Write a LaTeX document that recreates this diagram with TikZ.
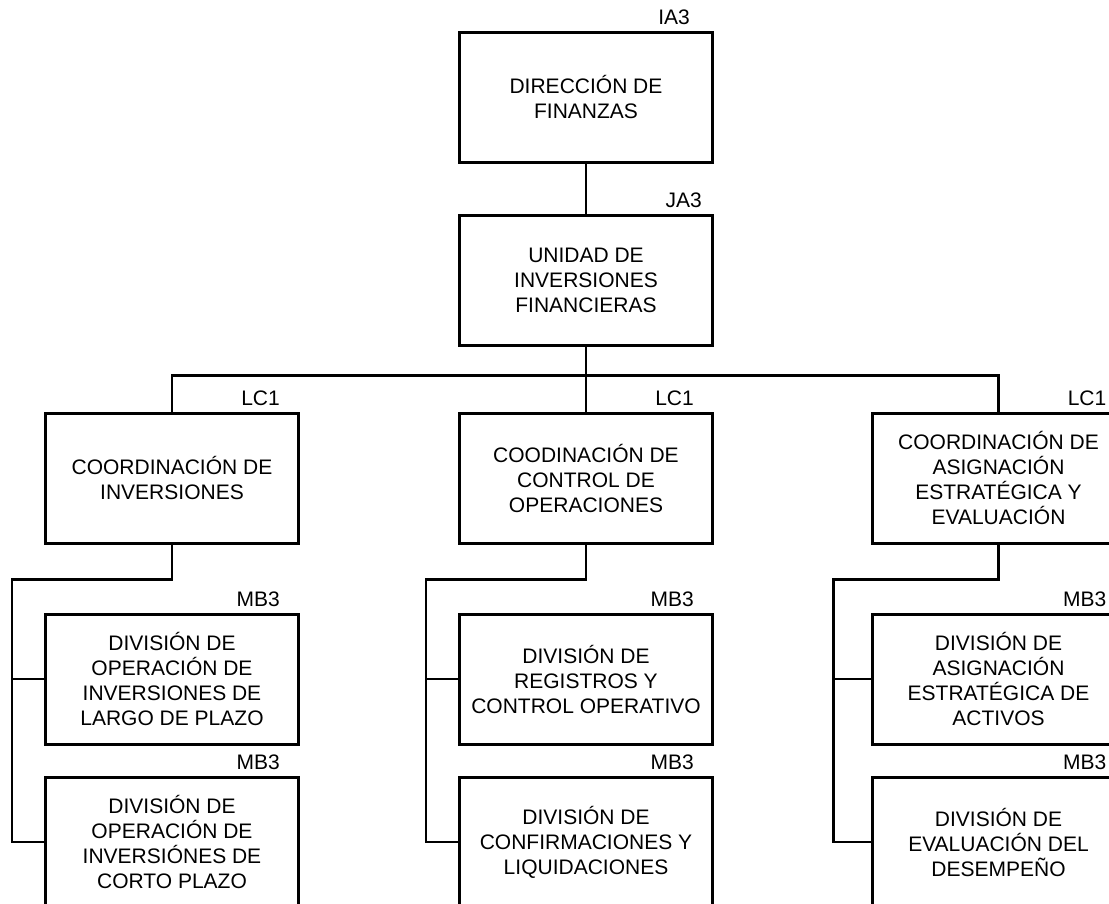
\documentclass[tikz,border=0pt]{standalone}
\usepackage{fontspec}
\setmainfont{Liberation Sans}
\usepackage{tikz}
\usetikzlibrary{calc}

\begin{document}
\begin{tikzpicture}[x=1pt,y=1pt,font=\fontsize{21}{25}\selectfont,
  unitbox/.style={draw,line width=3pt,minimum width=253pt,minimum height=130pt,align=center,inner sep=2pt},
  tag/.style={anchor=south east,inner sep=0pt,xshift=-20pt,yshift=6pt},
  link/.style={line width=2.5pt}]
  \useasboundingbox (0,0) rectangle (1109,-903);
  \clip (0,0) rectangle (1109,-903);
  % top levels
  \node[unitbox,label={[tag,xshift=-4pt]north east:IA3}] (dir) at (586,-97) {DIRECCIÓN DE\\FINANZAS};
  \node[unitbox,label={[tag,xshift=8pt]north east:JA3}] (uni) at (586,-280) {UNIDAD DE\\INVERSIONES\\FINANCIERAS};
  % coordinations
  \node[unitbox,label={[tag]north east:LC1}] (coi) at (172,-478) {COORDINACIÓN DE\\INVERSIONES};
  \node[unitbox,label={[tag]north east:LC1}] (cco) at (586,-478) {COODINACIÓN DE\\CONTROL DE\\OPERACIONES};
  \node[unitbox,label={[tag]north east:LC1}] (cae) at (998.5,-478) {COORDINACIÓN DE\\ASIGNACIÓN\\ESTRATÉGICA Y\\EVALUACIÓN};
  % divisions
  \node[unitbox,label={[tag]north east:MB3}] (dol) at (172,-679) {DIVISIÓN DE\\OPERACIÓN DE\\INVERSIONES DE\\LARGO DE PLAZO};
  \node[unitbox,label={[tag]north east:MB3}] (doc) at (172,-842) {DIVISIÓN DE\\OPERACIÓN DE\\INVERSIÓNES DE\\CORTO PLAZO};
  \node[unitbox,label={[tag]north east:MB3}] (drc) at (586,-679) {DIVISIÓN DE\\REGISTROS Y\\CONTROL OPERATIVO};
  \node[unitbox,label={[tag]north east:MB3}] (dcl) at (586,-842) {DIVISIÓN DE\\CONFIRMACIONES Y\\LIQUIDACIONES};
  \node[unitbox,label={[tag]north east:MB3}] (dae) at (998.5,-679) {DIVISIÓN DE\\ASIGNACIÓN\\ESTRATÉGICA DE\\ACTIVOS};
  \node[unitbox,label={[tag]north east:MB3}] (ded) at (998.5,-842) {DIVISIÓN DE\\EVALUACIÓN DEL\\DESEMPEÑO};
  % upper links
  \draw[link] (dir.south) -- (uni.north);
  \draw[link] (uni.south) -- ++(0,-29) coordinate (bus);
  \draw[link] (bus) -| (coi.north);
  \draw[link] (bus) -- (cco.north);
  \draw[link] (bus) -| (cae.north);
  % left branch
  \coordinate (spl) at ($(dol.west)+(-32,0)$);
  \draw[link] (coi.south) -- ++(0,-35) -| (spl) |- (doc.west);
  \draw[link] (spl) -- (dol.west);
  % middle branch
  \coordinate (spm) at ($(drc.west)+(-32,0)$);
  \draw[link] (cco.south) -- ++(0,-35) -| (spm) |- (dcl.west);
  \draw[link] (spm) -- (drc.west);
  % right branch
  \coordinate (spr) at ($(dae.west)+(-37,0)$);
  \draw[link] (cae.south) -- ++(0,-35) -| (spr) |- (ded.west);
  \draw[link] (spr) -- (dae.west);
\end{tikzpicture}
\end{document}
